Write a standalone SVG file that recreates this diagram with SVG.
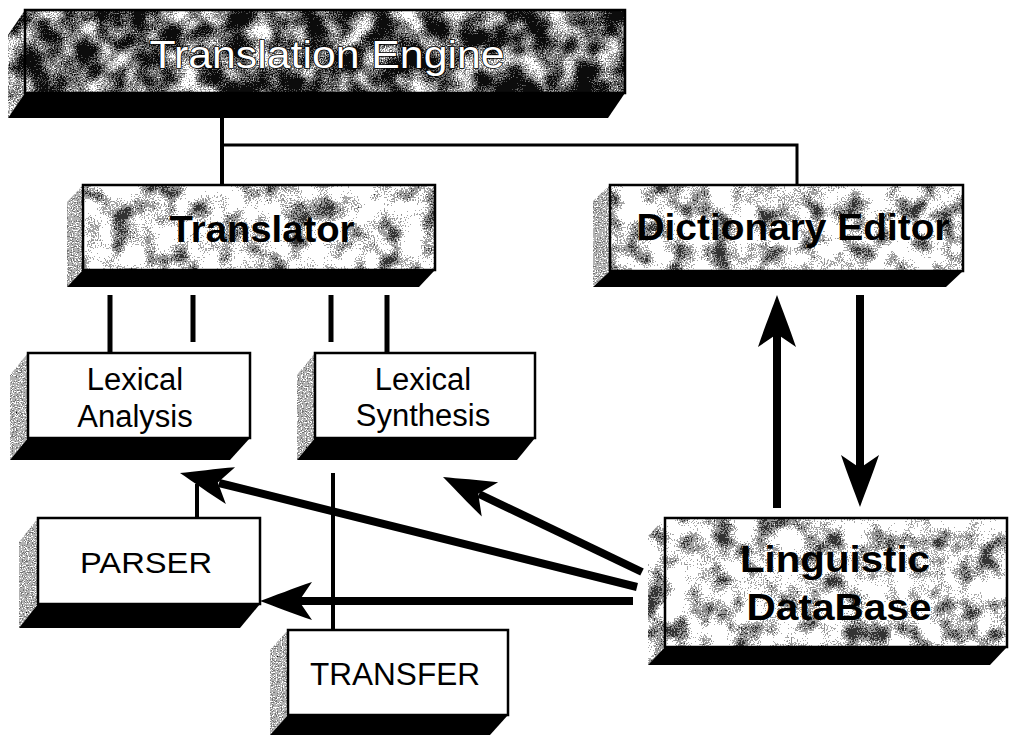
<svg xmlns="http://www.w3.org/2000/svg" xmlns:xlink="http://www.w3.org/1999/xlink" width="1009" height="735" viewBox="0 0 1009 735">
<defs>
<style>
.out{fill:none;stroke:#000;stroke-width:2.5}
.slab{fill:#000}
.white{fill:#fff}
.lbl{font-family:"Liberation Sans",Arial,sans-serif;fill:#000;text-anchor:middle}
.bold{font-weight:bold}
.conn{stroke:#000;fill:none}
.ah{fill:#000}
</style>
<filter id="texL" x="0" y="0" width="1" height="1" color-interpolation-filters="sRGB">
<feTurbulence type="fractalNoise" baseFrequency="0.045" numOctaves="2" seed="4" result="a0"/>
<feColorMatrix in="a0" type="matrix" values="1 0 0 0 0 1 0 0 0 0 1 0 0 0 0 0 0 0 0 1" result="a"/>
<feTurbulence type="fractalNoise" baseFrequency="0.7" numOctaves="1" seed="9" result="b0"/>
<feColorMatrix in="b0" type="matrix" values="1 0 0 0 0 1 0 0 0 0 1 0 0 0 0 0 0 0 0 1" result="b"/>
<feComposite in="a" in2="b" operator="arithmetic" k2="1.8" k3="1.2" k4="-0.95" result="m"/>
<feComponentTransfer in="m" result="d">
<feFuncR type="discrete" tableValues="0.2 0.55 0.66 1 1 1"/>
<feFuncG type="discrete" tableValues="0.2 0.55 0.66 1 1 1"/>
<feFuncB type="discrete" tableValues="0.2 0.55 0.66 1 1 1"/>
<feFuncA type="linear" slope="0" intercept="1"/>
</feComponentTransfer>
<feComposite in="d" in2="SourceGraphic" operator="in"/>
</filter>
<filter id="texD" x="0" y="0" width="1" height="1" color-interpolation-filters="sRGB">
<feTurbulence type="fractalNoise" baseFrequency="0.04" numOctaves="2" seed="7" result="a0"/>
<feColorMatrix in="a0" type="matrix" values="1 0 0 0 0 1 0 0 0 0 1 0 0 0 0 0 0 0 0 1" result="a"/>
<feTurbulence type="fractalNoise" baseFrequency="0.75" numOctaves="1" seed="2" result="b0"/>
<feColorMatrix in="b0" type="matrix" values="1 0 0 0 0 1 0 0 0 0 1 0 0 0 0 0 0 0 0 1" result="b"/>
<feComposite in="a" in2="b" operator="arithmetic" k2="1.8" k3="1.3" k4="-1.25" result="m"/>
<feComponentTransfer in="m" result="d">
<feFuncR type="discrete" tableValues="0.05 0.3 0.5 0.75 1 1"/>
<feFuncG type="discrete" tableValues="0.05 0.3 0.5 0.75 1 1"/>
<feFuncB type="discrete" tableValues="0.05 0.3 0.5 0.75 1 1"/>
<feFuncA type="linear" slope="0" intercept="1"/>
</feComponentTransfer>
<feComposite in="d" in2="SourceGraphic" operator="in"/>
</filter>
<filter id="texS" x="0" y="0" width="1" height="1" color-interpolation-filters="sRGB">
<feTurbulence type="fractalNoise" baseFrequency="0.8" numOctaves="1" seed="11" result="b0"/>
<feColorMatrix in="b0" type="matrix" values="1 0 0 0 0 1 0 0 0 0 1 0 0 0 0 0 0 0 0 1" result="g"/>
<feComponentTransfer in="g" result="d">
<feFuncR type="discrete" tableValues="0 0.45 0.7 1 1"/>
<feFuncG type="discrete" tableValues="0 0.45 0.7 1 1"/>
<feFuncB type="discrete" tableValues="0 0.45 0.7 1 1"/>
</feComponentTransfer>
<feComposite in="d" in2="SourceGraphic" operator="in"/>
</filter>
<path id="ah" d="M0,0 C-14,-5 -34,-13 -52,-19 L-39,0 L-52,19 C-34,13 -14,5 0,0Z"/>
</defs>
<rect width="1009" height="735" fill="#fff"/>

<g id="connectors">
<path class="conn" stroke-width="4" d="M222,118 V185"/>
<path class="conn" stroke-width="3" d="M222,145 H797 V185"/>
<path class="conn" stroke-width="5" d="M110,295 V353 M193,295 V342 M331,295 V342 M387,295 V353"/>
<path class="conn" stroke-width="4" d="M197,518 V484"/>
<path class="conn" stroke-width="4" d="M333,473 V630"/>
<path class="conn" stroke-width="8" d="M642,572 L479,494"/>
<use href="#ah" class="ah" transform="translate(443,477) rotate(205.5)"/>
<path class="conn" stroke-width="8" d="M637,587 L219,483"/>
<use href="#ah" class="ah" transform="translate(180,473) rotate(194)"/>
<path class="conn" stroke-width="8" d="M633,601 L298,601"/>
<use href="#ah" class="ah" transform="translate(260,601) rotate(180)"/>
<path class="conn" stroke-width="8" d="M777,508 V333"/>
<use href="#ah" class="ah" transform="translate(777,295) rotate(-90)"/>
<path class="conn" stroke-width="8" d="M860,295 V469"/>
<use href="#ah" class="ah" transform="translate(860,507) rotate(90)"/>
</g>

<g id="translation-engine">
<polygon points="25,10 25,93 8,118 8,35" fill="#888" filter="url(#texD)"/>
<rect x="25" y="10" width="600" height="83" fill="#888" filter="url(#texD)"/>
<rect x="25" y="10" width="600" height="83" class="out"/>
<polygon class="slab" points="25,93 625,93 608,118 8,118"/>
<text x="327" y="68" class="lbl" font-size="38" textLength="355" lengthAdjust="spacingAndGlyphs" style="fill:#fff;stroke:#000;stroke-width:1.5;paint-order:stroke">Translation Engine</text>
</g>

<g id="translator">
<polygon points="83,185 83,270 67,287 67,202" fill="#888" filter="url(#texS)"/>
<rect x="83" y="185" width="352" height="85" fill="#888" filter="url(#texL)"/>
<rect x="83" y="185" width="352" height="85" class="out"/>
<polygon class="slab" points="83,270 435,270 419,287 67,287"/>
<text x="262" y="242" class="lbl bold" font-size="37" textLength="185" lengthAdjust="spacingAndGlyphs">Translator</text>
</g>

<g id="dictionary-editor">
<polygon points="610,185 610,271 593,287 593,201" fill="#888" filter="url(#texS)"/>
<rect x="610" y="185" width="353" height="86" fill="#888" filter="url(#texL)"/>
<rect x="610" y="185" width="353" height="86" class="out"/>
<polygon class="slab" points="610,271 963,271 946,287 593,287"/>
<text x="793" y="240" class="lbl bold" font-size="37" textLength="313" lengthAdjust="spacingAndGlyphs">Dictionary Editor</text>
</g>

<g id="lexical-analysis">
<polygon points="28,353 28,438 10,460 10,375" fill="#888" filter="url(#texS)"/>
<rect x="28" y="353" width="222" height="85" class="white"/>
<rect x="28" y="353" width="222" height="85" class="out"/>
<polygon class="slab" points="28,438 250,438 230,460 10,460"/>
<text x="135" y="390" class="lbl" font-size="31">Lexical</text>
<text x="135" y="427" class="lbl" font-size="31">Analysis</text>
</g>

<g id="lexical-synthesis">
<polygon points="315,353 315,438 297,460 297,375" fill="#888" filter="url(#texS)"/>
<rect x="315" y="353" width="220" height="85" class="white"/>
<rect x="315" y="353" width="220" height="85" class="out"/>
<polygon class="slab" points="315,438 535,438 517,460 297,460"/>
<text x="423" y="390" class="lbl" font-size="31">Lexical</text>
<text x="423" y="426" class="lbl" font-size="31">Synthesis</text>
</g>

<g id="parser">
<polygon points="38,518 38,604 19,628 19,542" fill="#888" filter="url(#texS)"/>
<rect x="38" y="518" width="222" height="86" class="white"/>
<rect x="38" y="518" width="222" height="86" class="out"/>
<polygon class="slab" points="38,604 260,604 240,628 19,628"/>
<text x="146" y="573" class="lbl" font-size="30" textLength="132" lengthAdjust="spacingAndGlyphs">PARSER</text>
</g>

<g id="transfer">
<polygon points="288,630 288,715 270,735 270,650" fill="#888" filter="url(#texS)"/>
<rect x="288" y="630" width="220" height="85" class="white"/>
<rect x="288" y="630" width="220" height="85" class="out"/>
<polygon class="slab" points="288,715 508,715 490,735 270,735"/>
<text x="395" y="685" class="lbl" font-size="31" textLength="170" lengthAdjust="spacingAndGlyphs">TRANSFER</text>
</g>

<g id="linguistic-database">
<polygon points="665,518 665,647 648,665 648,536" fill="#888" filter="url(#texL)"/>
<rect x="665" y="518" width="342" height="129" fill="#888" filter="url(#texL)"/>
<rect x="665" y="518" width="342" height="129" class="out"/>
<polygon class="slab" points="665,647 1007,647 990,665 648,665"/>
<text x="835" y="572" class="lbl bold" font-size="36" textLength="190" lengthAdjust="spacingAndGlyphs">Linguistic</text>
<text x="839" y="620" class="lbl bold" font-size="36" textLength="185" lengthAdjust="spacingAndGlyphs">DataBase</text>
</g>
</svg>
